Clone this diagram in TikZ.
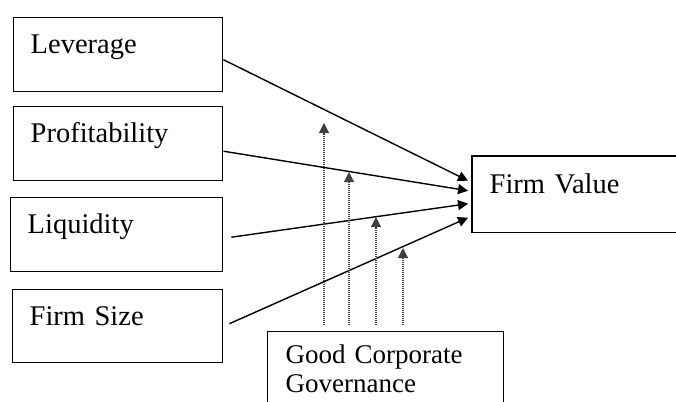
\documentclass[tikz,border=0pt]{standalone}
\usepackage{fontspec}
\setmainfont{Liberation Serif}
\usepackage{tikz}
\usetikzlibrary{arrows.meta}
\tikzstyle{varbox}=[rectangle,draw=black,line width=1.4pt,anchor=north west,
                    inner xsep=17pt,inner ysep=0pt,align=left,
                    minimum height=74pt,text height=19pt,text depth=21pt,
                    font=\fontsize{28.5}{30}\selectfont]
\tikzstyle{effect}=[draw=black,line width=1.4pt,
                    -{Triangle[length=10pt,width=10pt]}]
\tikzstyle{moderate}=[draw=black!75,line width=1.1pt,dash pattern=on 1pt off 1pt,
                      -{Triangle[length=10pt,width=10pt]}]

\begin{document}
\begin{tikzpicture}[x=1pt,y=-1pt]
    \useasboundingbox (0,0) rectangle (676,401);
    \node (lev)  at (13,17)  [varbox,text width=175pt]{Leverage};
    \node (prof) at (13,106) [varbox,text width=175pt]{Profitability};
    \node (liq)  at (10,197) [varbox,text width=178pt]{Liquidity};
    \node (size) at (12,289) [varbox,text width=176pt,minimum height=73pt]{Firm Size};
    % the right side of this box is cut off by the page
    \node (fv)   at (472,156) [varbox,draw=none,text width=170pt,minimum height=75pt]{Firm Value};
    \draw[line width=1.4pt] (fv.north east) -- (fv.north west) -- (fv.south west) -- (fv.south east);
    \node (gcg)  at (267,331) [varbox,text width=200pt,inner xsep=18pt,inner ysep=13pt,
                               minimum height=0pt,text height=,text depth=,
                               font=\fontsize{27}{29}\selectfont]
                               {Good Corporate\\Governance};
    % independent variables -> firm value
    \draw[effect] ([yshift=-5pt]lev.east)  -- ([xshift=-4pt,yshift=13.5pt]fv.west);
    \draw[effect] ([yshift=-7.5pt]prof.east) -- ([xshift=-4pt,yshift=3.5pt]fv.west);
    \draw[effect] ([xshift=8pt,yshift=-2.5pt]liq.east) -- ([xshift=-4pt,yshift=-9.5pt]fv.west);
    \draw[effect] ([xshift=6pt,yshift=2.5pt]size.east) -- ([xshift=-4pt,yshift=-23.5pt]fv.west);
    % moderating effect of GCG
    \foreach \i/\x/\y in {1/324/123, 2/349/172, 3/376/217, 4/403/248} {
      \coordinate (base\i) at (\x,325);
      \coordinate (mod\i)  at (\x,\y);
      \draw[moderate] (base\i) -- (mod\i);
    }
\end{tikzpicture}
\end{document}
